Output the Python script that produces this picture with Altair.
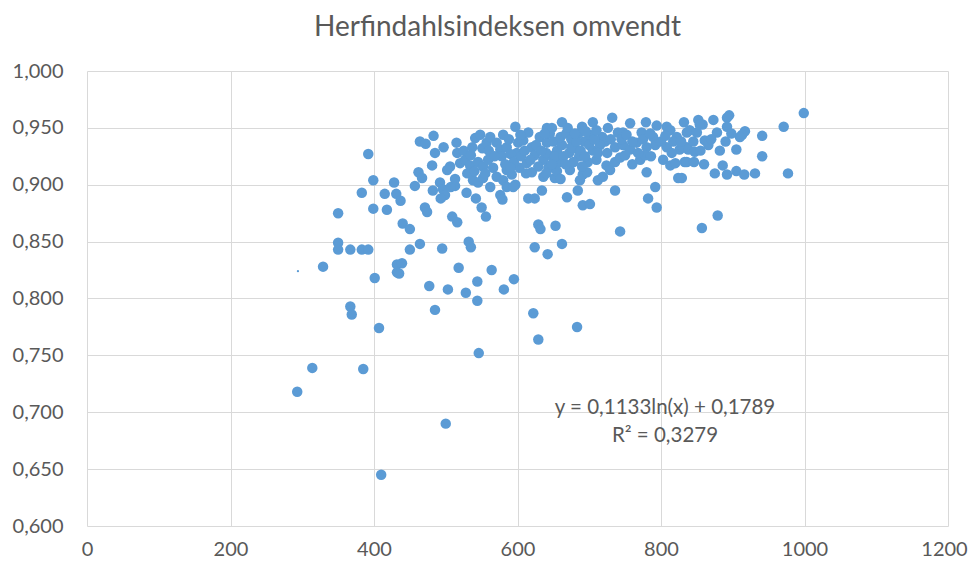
import altair as alt
import pandas as pd

# Data (x value, inverted Herfindahl index)
x_vals = [
    392, 399, 428, 383, 415, 431, 437, 350, 399, 418, 440, 450, 350, 350, 367, 383, 392, 450, 464, 495,
    329, 432, 439, 432, 435, 401, 477, 503, 367, 369, 485, 407, 314, 385, 293, 500, 410, 532, 535, 518,
    528, 544, 544, 564, 581, 595, 546, 624, 642, 662, 622, 683, 629, 629, 632, 653, 743, 857, 879, 971,
    977, 999, 941, 941,
    464, 472, 483, 497, 485, 481, 462, 467, 457, 482, 492, 496, 499, 493, 513, 516, 506, 502, 529, 542,
    550, 556, 576, 579, 471, 474, 509, 516, 615, 624, 634,
    541, 537, 551, 557, 562, 571, 580, 576, 585, 597, 601, 599, 608, 615, 620, 624, 631, 641, 641, 636,
    520, 527, 534, 530, 545, 552, 559, 566, 571, 580, 585, 592, 597, 603, 613, 620, 629, 636, 643, 538,
    545, 552, 562, 585, 594, 507, 513,
    662, 732, 705, 690, 648, 757, 779, 794, 808, 832, 836, 740, 747, 718, 722, 773, 789, 813, 822, 736,
    747, 757, 766, 780, 792, 808, 817, 826, 836, 673, 652, 687, 691, 697, 684, 712, 719, 724, 729, 736,
    743, 750, 736, 771, 778, 780, 792, 782, 794, 803, 813, 820, 824, 833, 669, 691, 701,
    645, 650, 655, 648, 658, 645, 655, 662, 660, 640, 668, 675, 680, 672, 686, 693, 700, 705, 710, 698,
    690, 715, 678, 685,
    895, 892, 873, 852, 858, 840, 850, 854, 878, 892, 917, 913, 910, 861, 866, 890, 905, 830, 838, 847,
    836, 846, 875, 886, 892, 905, 916, 931, 829,
    578, 583, 590, 595, 605, 610, 618, 626, 633, 588, 604, 612, 590,
    638, 652, 664, 667, 675, 682, 688, 694, 700, 707, 712, 640, 648, 660, 670, 680, 695, 710,
    725, 730, 745, 752, 760, 768, 775, 785, 760, 726, 786,
    800, 806, 815, 828, 845, 855, 870, 882, 898, 860,
    525, 535, 548, 560, 568, 515, 555, 540,
]
y_vals = [
    0.927, 0.904, 0.902, 0.893, 0.892, 0.892, 0.886, 0.875, 0.879, 0.878, 0.866, 0.861, 0.849, 0.843, 0.843, 0.843, 0.843, 0.843, 0.848, 0.844,
    0.828, 0.830, 0.831, 0.823, 0.822, 0.818, 0.811, 0.808, 0.793, 0.786, 0.790, 0.774, 0.739, 0.738, 0.718, 0.690, 0.645, 0.850, 0.845, 0.827,
    0.805, 0.815, 0.798, 0.825, 0.808, 0.817, 0.752, 0.845, 0.839, 0.848, 0.787, 0.775, 0.764, 0.865, 0.861, 0.864, 0.859, 0.862, 0.873, 0.951,
    0.910, 0.963, 0.943, 0.925,
    0.938, 0.936, 0.943, 0.933, 0.928, 0.917, 0.911, 0.906, 0.899, 0.895, 0.902, 0.896, 0.891, 0.888, 0.899, 0.928, 0.916, 0.913, 0.893, 0.888,
    0.880, 0.872, 0.891, 0.887, 0.880, 0.876, 0.872, 0.867, 0.888, 0.888, 0.895,
    0.941, 0.933, 0.932, 0.937, 0.942, 0.937, 0.944, 0.931, 0.933, 0.951, 0.937, 0.928, 0.939, 0.946, 0.933, 0.926, 0.942, 0.950, 0.937, 0.922,
    0.919, 0.922, 0.917, 0.910, 0.920, 0.916, 0.922, 0.915, 0.907, 0.904, 0.913, 0.909, 0.900, 0.915, 0.919, 0.911, 0.916, 0.907, 0.915, 0.904,
    0.902, 0.906, 0.898, 0.898, 0.898, 0.898, 0.905,
    0.955, 0.959, 0.955, 0.951, 0.950, 0.954, 0.955, 0.952, 0.951, 0.955, 0.946, 0.946, 0.946, 0.942, 0.938, 0.946, 0.942, 0.948, 0.942, 0.933,
    0.935, 0.931, 0.937, 0.933, 0.935, 0.933, 0.938, 0.931, 0.933, 0.913, 0.906, 0.904, 0.909, 0.911, 0.895, 0.904, 0.907, 0.917, 0.913, 0.920,
    0.924, 0.926, 0.895, 0.922, 0.926, 0.911, 0.898, 0.888, 0.880, 0.922, 0.917, 0.919, 0.906, 0.920, 0.889, 0.882, 0.883,
    0.945, 0.938, 0.930, 0.925, 0.920, 0.915, 0.912, 0.935, 0.942, 0.928, 0.945, 0.940, 0.932, 0.928, 0.925, 0.938, 0.944, 0.930, 0.922, 0.920,
    0.916, 0.935, 0.920, 0.945,
    0.961, 0.959, 0.957, 0.957, 0.953, 0.948, 0.946, 0.953, 0.946, 0.951, 0.947, 0.944, 0.942, 0.939, 0.935, 0.938, 0.931, 0.933, 0.931, 0.929,
    0.920, 0.920, 0.910, 0.917, 0.909, 0.912, 0.909, 0.910, 0.906,
    0.925, 0.918, 0.927, 0.920, 0.925, 0.930, 0.922, 0.935, 0.930, 0.940, 0.944, 0.910, 0.915,
    0.945, 0.925, 0.925, 0.918, 0.933, 0.938, 0.930, 0.925, 0.935, 0.940, 0.928, 0.910, 0.918, 0.905, 0.950, 0.945, 0.947, 0.948,
    0.928, 0.940, 0.940, 0.944, 0.938, 0.928, 0.940, 0.945, 0.918, 0.950, 0.925,
    0.938, 0.943, 0.928, 0.938, 0.938, 0.930, 0.940, 0.930, 0.945, 0.918,
    0.930, 0.926, 0.944, 0.930, 0.925, 0.937, 0.910, 0.912,
]

tiny_x = [294]
tiny_y = [0.824]

title_text = "Herfindahlsindeksen omvendt"
eq_line1 = "y = 0,1133ln(x) + 0,1789"
eq_line2 = "R² = 0,3279"

x_ticks = [0, 200, 400, 600, 800, 1000, 1200]
y_ticks = [0.60, 0.65, 0.70, 0.75, 0.80, 0.85, 0.90, 0.95, 1.00]

df = pd.DataFrame({"x": x_vals, "y": y_vals})
df_tiny = pd.DataFrame({"x": tiny_x, "y": tiny_y})

blue = "#5B9BD5"
font = "Lato"

x_enc = alt.X("x:Q", scale=alt.Scale(domain=[0, 1200], nice=False),
              axis=alt.Axis(values=x_ticks, title=None, labelExpr="format(datum.value, 'd')",
                            labelPadding=13, labelFlush=False,
                            labelOffset={"condition": {"test": "datum.value == 1200", "value": -4},
                                         "value": 0}))
y_enc = alt.Y("y:Q", scale=alt.Scale(domain=[0.6, 1.0], nice=False, zero=False),
              axis=alt.Axis(values=y_ticks, title=None,
                            labelExpr="replace(format(datum.value, '.3f'), '.', ',')",
                            labelPadding=24))

points = alt.Chart(df).mark_circle(size=110, color=blue, opacity=1).encode(x=x_enc, y=y_enc)
tiny = alt.Chart(df_tiny).mark_circle(size=5, color=blue, opacity=1).encode(x="x:Q", y="y:Q")

t1 = alt.Chart(pd.DataFrame({"t": [eq_line1]})).mark_text(
    font=font, fontSize=20.5, color="#595959", align="center", baseline="middle"
).encode(text="t:N", x=alt.value(578), y=alt.value(337))
t2 = alt.Chart(pd.DataFrame({"t": [eq_line2]})).mark_text(
    font=font, fontSize=20.5, color="#595959", align="center", baseline="middle"
).encode(text="t:N", x=alt.value(578), y=alt.value(365))

chart = alt.layer(points, tiny, t1, t2).properties(
    width=861,
    height=455,
    autosize=alt.AutoSizeParams(type="none"),
    padding={"left": 79, "top": 63, "right": 20, "bottom": 36},
    title=alt.TitleParams(title_text, font=font, fontSize=28, fontWeight="normal",
                          color="#595959", anchor="middle", dx=-20, offset=19),
).configure_view(stroke=None).configure_axis(
    domain=False, ticks=False, grid=True, gridColor="#D9D9D9", gridWidth=1,
    labelColor="#595959", labelFont=font, labelFontSize=20,
)

chart.save("out.html", embed_options={"renderer": "svg", "actions": False})
